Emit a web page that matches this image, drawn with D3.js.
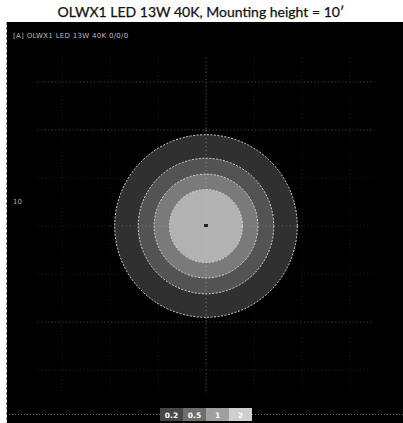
<!DOCTYPE html>
<html><head><meta charset="utf-8">
<script src="https://cdn.jsdelivr.net/npm/d3@7"></script>
<style>body{margin:0;background:#fff}svg{display:block}</style>
</head><body>
<script>
const title = "OLWX1 LED 13W 40K, Mounting height = 10′";
const plotLabel = "[A]  OLWX1 LED 13W 40K 0/0/0";
const levels = [0.2, 0.5, 1, 2];            // footcandle contours
const radiiFt = [19, 14.1, 10.8, 7.6];      // contour radius (ft) for each level
const fills = ["#303030", "#535353", "#7a7a7a", "#b2b2b2"];
const legendFills = ["#474747", "#6e6e6e", "#a0a0a0", "#cfcfcf"];
const gridFt = [-30, -20, -10, 0, 10, 20, 30];
const sideLabel = "10";

const W = 403, H = 423;
const svg = d3.select("body").append("svg").attr("width", W).attr("height", H);

// panel
svg.append("rect").attr("x", 7).attr("y", 22).attr("width", W - 7).attr("height", H - 22).attr("fill", "#000");
svg.append("line").attr("x1", 6.5).attr("x2", 6.5).attr("y1", 22).attr("y2", H)
  .attr("stroke", "#999").attr("stroke-dasharray", "3,2");

const x = d3.scaleLinear().domain([-41, 41]).range([9, 403]);
const y = d3.scaleLinear().domain([-41, 41]).range([423, 29]);

svg.append("text").attr("x", 201).attr("y", 17).attr("text-anchor", "middle")
  .attr("font-family", "Lato, 'Open Sans', sans-serif").attr("font-size", 14).attr("fill", "#111")
  .attr("stroke", "#111").attr("stroke-width", 0.25)
  .text(title);

svg.append("text").attr("x", 13).attr("y", 38)
  .attr("font-family", "'DejaVu Sans', sans-serif").attr("font-size", 7).attr("fill", "#bbb")
  .attr("letter-spacing", 0.3).text(plotLabel);

// grid
const g = svg.append("g").attr("stroke", "#888").attr("stroke-width", 0.7).attr("stroke-dasharray", "1,2.5");
g.selectAll("line.h").data(gridFt).join("line").attr("class", "h")
  .attr("x1", x(-35)).attr("x2", x(35)).attr("y1", d => y(d)).attr("y2", d => y(d))
  .attr("opacity", d => Math.abs(d) === 20 || d === 30 ? 0.9 : 0.35);
g.selectAll("line.v").data(gridFt).join("line").attr("class", "v")
  .attr("y1", y(35)).attr("y2", y(-35)).attr("x1", d => x(d)).attr("x2", d => x(d))
  .attr("opacity", d => d === 0 ? 1 : 0.3);

// contours
const cx = x(0), cy = y(0);
svg.append("g").selectAll("circle").data(levels).join("circle")
  .attr("cx", cx).attr("cy", cy)
  .attr("r", (d, i) => x(radiiFt[i]) - x(0))
  .attr("fill", (d, i) => fills[i])
  .attr("stroke", "#d8d8d8").attr("stroke-width", 1).attr("stroke-dasharray", "2,1.5");

// center axes through contours
svg.append("line").attr("x1", cx).attr("x2", cx).attr("y1", y(20)).attr("y2", y(-20))
  .attr("stroke", "#ccc").attr("stroke-width", 0.6).attr("stroke-dasharray", "1,3");
svg.append("line").attr("x1", x(-20)).attr("x2", x(20)).attr("y1", cy).attr("y2", cy)
  .attr("stroke", "#ccc").attr("stroke-width", 0.6).attr("stroke-dasharray", "1,3").attr("opacity", 0.5);

// luminaire mark
svg.append("rect").attr("x", cx - 2).attr("y", cy - 2).attr("width", 4).attr("height", 3).attr("fill", "#222");

svg.append("text").attr("x", 13).attr("y", 204)
  .attr("font-family", "'DejaVu Sans', sans-serif").attr("font-size", 7).attr("fill", "#aaa")
  .text(sideLabel);

// legend
svg.append("line").attr("x1", 9).attr("x2", 403).attr("y1", 414.5).attr("y2", 414.5)
  .attr("stroke", "#666").attr("stroke-dasharray", "1,2");
const lx = d3.scaleBand().domain(levels).range([160, 252]);
const lg = svg.append("g");
lg.selectAll("rect").data(levels).join("rect")
  .attr("x", d => lx(d)).attr("y", 408).attr("width", lx.bandwidth()).attr("height", 13)
  .attr("fill", (d, i) => legendFills[i]);
lg.selectAll("text").data(levels).join("text")
  .attr("x", d => lx(d) + lx.bandwidth() / 2).attr("y", 418).attr("text-anchor", "middle")
  .attr("font-family", "'DejaVu Sans', sans-serif").attr("font-size", 7.5).attr("font-weight", "bold")
  .attr("fill", "#fff").text(d => d);
</script>
</body></html>
